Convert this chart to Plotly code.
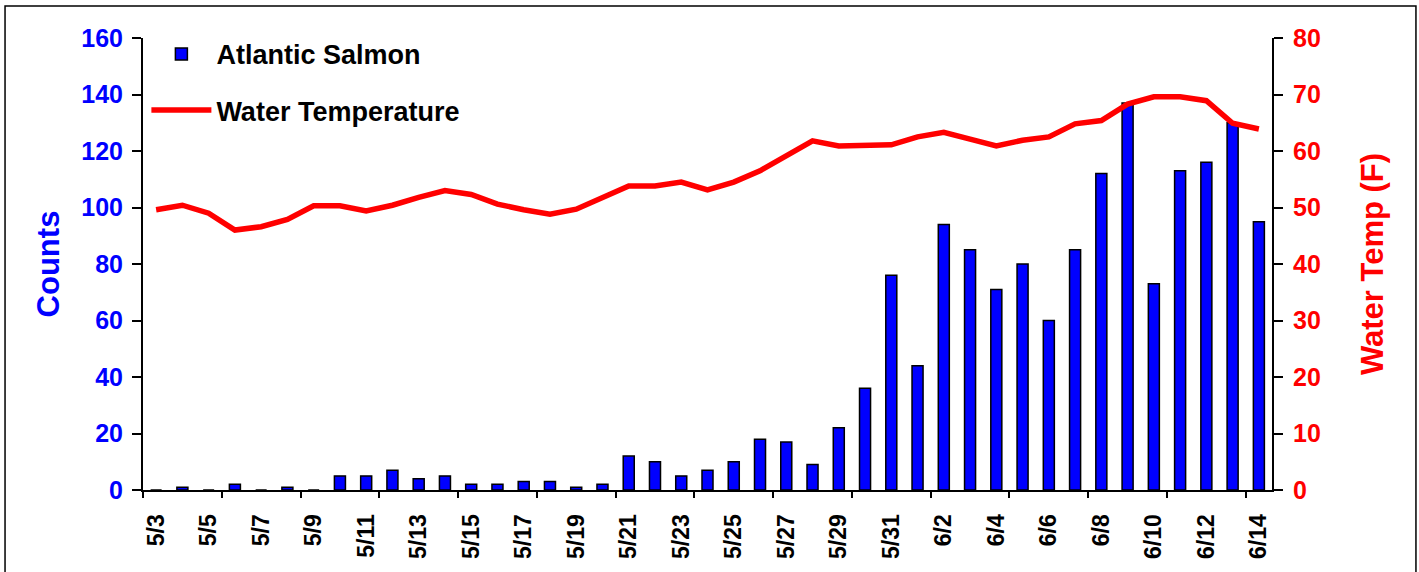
import plotly.graph_objects as go

dates = ["5/3", "5/4", "5/5", "5/6", "5/7", "5/8", "5/9", "5/10", "5/11", "5/12",
         "5/13", "5/14", "5/15", "5/16", "5/17", "5/18", "5/19", "5/20", "5/21", "5/22",
         "5/23", "5/24", "5/25", "5/26", "5/27", "5/28", "5/29", "5/30", "5/31",
         "6/1", "6/2", "6/3", "6/4", "6/5", "6/6", "6/7", "6/8", "6/9", "6/10",
         "6/11", "6/12", "6/13", "6/14"]

salmon_counts = [0, 1, 0, 2, 0, 1, 0, 5, 5, 7, 4, 5, 2, 2, 3, 3, 1, 2,
                 12, 10, 5, 7, 10, 18, 17, 9, 22, 36, 76,
                 44, 94, 85, 71, 80, 60, 85, 112, 137, 73, 113, 116, 130, 95]

water_temp = [49.6, 50.4, 49.0, 46.0, 46.6, 47.9, 50.3, 50.3, 49.4, 50.4,
              51.8, 53.0, 52.3, 50.6, 49.6, 48.8, 49.7, 51.8, 53.8, 53.8,
              54.5, 53.1, 54.5, 56.5, 59.2, 61.8, 60.9, 61.1, 61.1,
              62.5, 63.3, 62.1, 60.9, 61.9, 62.5, 64.8, 65.4, 68.3, 69.6,
              69.6, 68.9, 64.9, 63.9]

label_dates = dates[::2]
tick_boundaries = [i - 0.5 for i in range(0, len(dates), 3)]

FONT = "Liberation Sans, Arial, sans-serif"
BLUE = "#0000FF"
RED = "#FF0000"

fig = go.Figure()
fig.add_trace(go.Bar(
    x=dates, y=salmon_counts, name="Atlantic Salmon",
    marker=dict(color=BLUE, line=dict(color="black", width=1.5)),
    width=0.42, legendgroup="a",
))
fig.add_trace(go.Scatter(
    x=dates, y=water_temp, name="Water Temperature", mode="lines",
    line=dict(color=RED, width=5.5), xaxis="x2", yaxis="y2", legendgroup="b",
))

fig.update_layout(
    width=1419, height=572, autosize=False,
    margin=dict(l=143, r=147, t=38, b=82),
    paper_bgcolor="white", plot_bgcolor="white",
    font=dict(family=FONT, color="black"),
    showlegend=True,
    legend=dict(
        x=0.003, y=1.018, xanchor="left", yanchor="top",
        bgcolor="rgba(0,0,0,0)", borderwidth=0,
        font=dict(family=FONT, size=27, color="black", weight="bold"),
        itemwidth=60, traceorder="grouped", tracegroupgap=18,
    ),
    xaxis=dict(
        type="category", categoryorder="array", categoryarray=dates,
        range=[-0.5, len(dates) - 0.5],
        tickmode="array", tickvals=label_dates, ticktext=label_dates,
        tickangle=-90, ticks="", ticklabelstandoff=13,
        tickfont=dict(family=FONT, size=23, color="black", weight="bold"),
        showline=True, linecolor="black", linewidth=2,
        showgrid=False, zeroline=False,
    ),
    xaxis2=dict(
        type="category", categoryorder="array", categoryarray=dates,
        overlaying="x", anchor="y2", side="bottom",
        range=[-0.5, len(dates) - 0.5],
        tickmode="array", tickvals=tick_boundaries,
        ticks="outside", ticklen=7, tickwidth=2, tickcolor="black",
        showticklabels=False, showline=False, showgrid=False, zeroline=False,
    ),
    yaxis=dict(
        range=[0, 160], dtick=20, tick0=0,
        ticks="outside", ticklen=9, tickwidth=2, tickcolor="black",
        ticklabelstandoff=4,
        tickfont=dict(family=FONT, size=25, color=BLUE, weight="bold"),
        showline=True, linecolor="black", linewidth=2,
        showgrid=False, zeroline=False,
        title=dict(text="Counts", standoff=12,
                   font=dict(family=FONT, size=31, color=BLUE, weight="bold")),
    ),
    yaxis2=dict(
        range=[0, 80], dtick=10, tick0=0,
        overlaying="y", side="right", anchor="x2",
        ticks="outside", ticklen=9, tickwidth=2, tickcolor="black",
        ticklabelstandoff=5,
        tickfont=dict(family=FONT, size=25, color=RED, weight="bold"),
        showline=True, linecolor="black", linewidth=2,
        showgrid=False, zeroline=False,
        title=dict(text="Water Temp (F)", standoff=41,
                   font=dict(family=FONT, size=31, color=RED, weight="bold")),
    ),
    yaxis3=dict(
        range=[0, 80], dtick=10, tick0=0,
        overlaying="y", side="right", anchor="x",
        ticks="inside", ticklen=9, tickwidth=2, tickcolor="black",
        showticklabels=False, showline=False, showgrid=False, zeroline=False,
    ),
    shapes=[dict(
        type="rect", xref="paper", yref="paper",
        x0=-0.1222, x1=1.1275, y0=-0.2, y1=1.0708,
        line=dict(color="black", width=1.5), fillcolor="rgba(0,0,0,0)", layer="below",
    )],
)

fig.write_html("out.html", config={"displayModeBar": False},
               post_script="document.body.style.margin='0';")
